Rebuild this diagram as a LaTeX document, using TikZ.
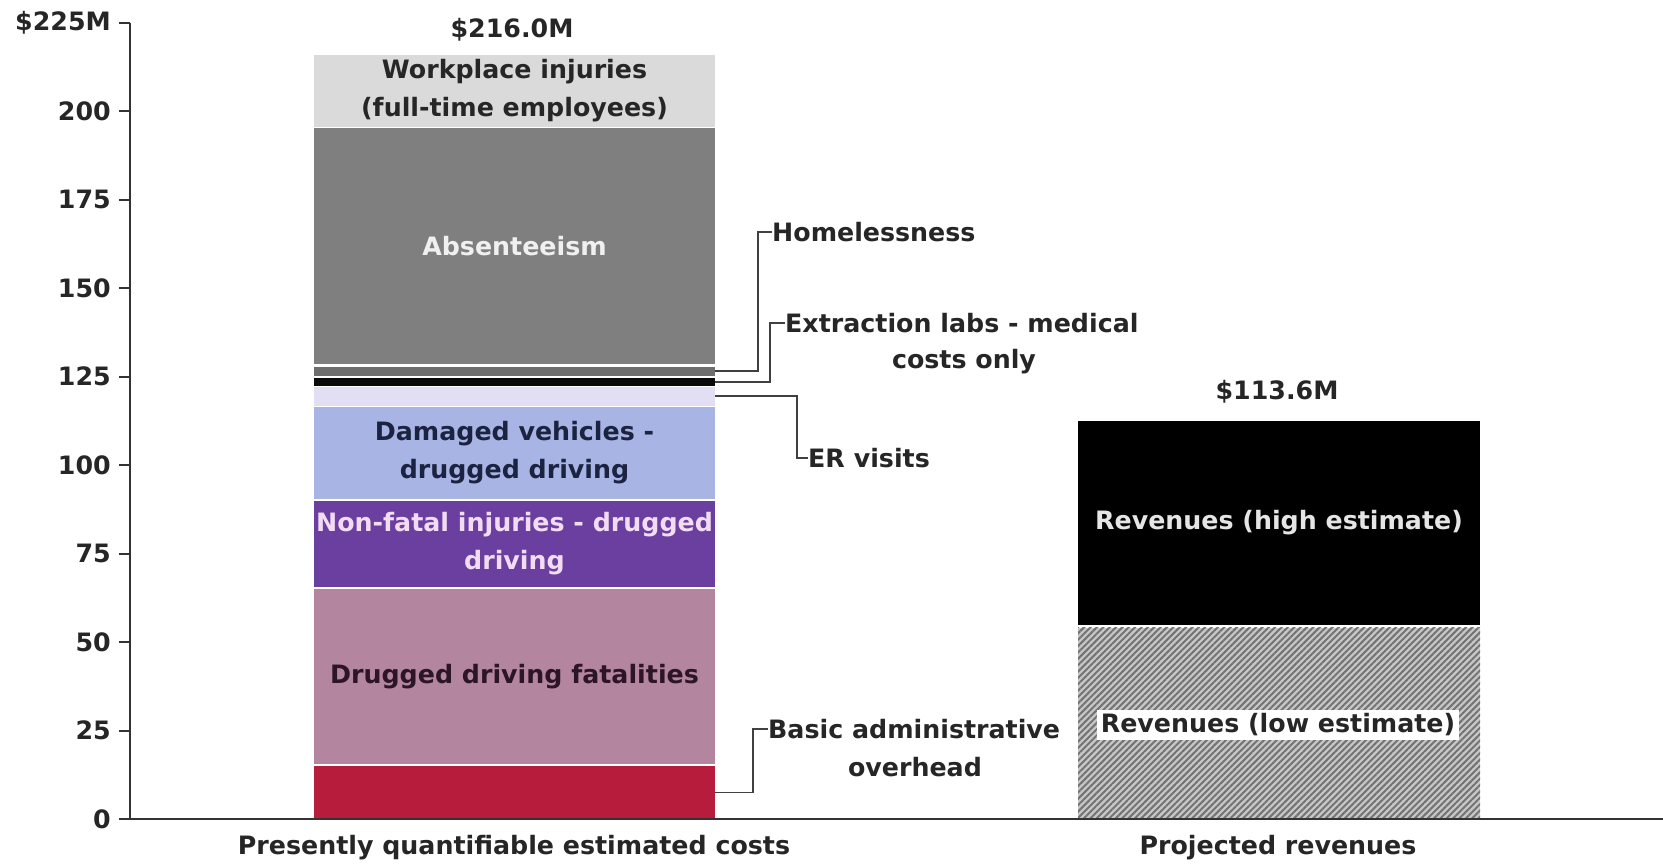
\documentclass[tikz,border=0pt]{standalone}
\usepackage{fontspec}
\setmainfont{DejaVu Sans}
\usetikzlibrary{patterns.meta}
\newcommand\mylbl{\fontsize{25.3}{38}\selectfont\bfseries}
\definecolor{cwork}{HTML}{DADADA}
\definecolor{cabs}{HTML}{7F7F7F}
\definecolor{chome}{HTML}{6E6E6E}
\definecolor{cext}{HTML}{0A0A0A}
\definecolor{cer}{HTML}{E2DFF5}
\definecolor{cdam}{HTML}{A8B4E4}
\definecolor{cnonf}{HTML}{6B3FA0}
\definecolor{cfat}{HTML}{B4859E}
\definecolor{cadm}{HTML}{B81C3C}
\definecolor{ctxt}{HTML}{262626}
\definecolor{tdam}{HTML}{1C2340}
\definecolor{tnonf}{HTML}{F2DCF2}
\definecolor{tfat}{HTML}{2B1526}
\begin{document}
\begin{tikzpicture}[x=1pt,y=-1pt,
  seg/.style={draw=none, inner sep=0pt, outer sep=0pt, anchor=north west, align=center, font=\mylbl},
  lead/.style={draw=black!75, line width=1.6pt},
  lab/.style={inner sep=0pt, font=\mylbl, text=ctxt, align=center},
  axisline/.style={draw=black!80, line width=2pt},
  ticklab/.style={inner sep=0pt, anchor=east, font=\mylbl, text=ctxt},
]
\useasboundingbox[fill=white] (0,0) rectangle (1663,865);
% left bar
\node[seg, fill=cwork, minimum width=401pt, minimum height=71.5pt, text=ctxt] (work) at (314,55) {Workplace injuries\\(full-time employees)};
\node[seg, fill=cabs, minimum width=401pt, minimum height=236pt, text=white!94!black] (abs) at (314,128) {Absenteeism};
\node[seg, fill=chome, minimum width=401pt, minimum height=9pt] (home) at (314,366.5) {};
\node[seg, fill=cext, minimum width=401pt, minimum height=8.5pt] (ext) at (314,377.5) {};
\node[seg, fill=cer, minimum width=401pt, minimum height=18.5pt] (er) at (314,387) {};
\node[seg, fill=cdam, minimum width=401pt, minimum height=92pt, text=tdam] (dam) at (314,407) {Damaged vehicles -\\drugged driving};
\node[seg, fill=cnonf, minimum width=401pt, minimum height=86pt, text=tnonf] (nonf) at (314,501) {Non-fatal injuries - drugged\\driving};
\node[seg, fill=cfat, minimum width=401pt, minimum height=175pt, text=tfat] (fat) at (314,589) {Drugged driving fatalities};
\node[seg, fill=cadm, minimum width=401pt, minimum height=53pt] (adm) at (314,766) {};
% right bar
\node[seg, fill=black, minimum width=402pt, minimum height=204pt, text=white!90!black] (high) at (1078,421) {Revenues (high estimate)};
\node[seg, preaction={fill=black!22}, pattern={Lines[angle=45,distance=4.5pt,line width=2pt]}, pattern color=black!55, minimum width=402pt, minimum height=191.5pt] (low) at (1078,627.5) {};
\node[lab, fill=white, inner sep=4pt] (lowl) at (1278,725) {Revenues (low estimate)};
% totals
\node[lab] (tot1) at (512,30) {\$216.0M};
\node[lab] (tot2) at (1277,392) {\$113.6M};
% axes
\draw[axisline] (130,22.7) -- (130,819);
\draw[axisline] (119,22.7) -- (130,22.7);
\node[ticklab] (t225) at (111,22.7) {\$225M};
\foreach \v in {0,25,...,200} {
  \draw[axisline] (119,{819-\v*3.539}) -- (130,{819-\v*3.539});
  \node[ticklab] (t\v) at (111,{819-\v*3.539}) {\v};
}
\draw[axisline] (130,819) -- (1663,819);
\node[lab] (cat1) at (514,848) {Presently quantifiable estimated costs};
\node[lab] (cat2) at (1278,848) {Projected revenues};
% callout labels
\node[lab, anchor=west] (homel) at (772,232) {Homelessness};
\node[lab, anchor=west] (extl) at (785,323) {Extraction labs - medical};
\node[lab] (extl2) at (964,361.5) {costs only};
\node[lab, anchor=west] (erl) at (808,458) {ER visits};
\node[lab, anchor=west] (adml) at (768,729) {Basic administrative};
\node[lab] (adml2) at (915,767) {overhead};
% leaders
\draw[lead] (home.east) -- ++(43,0) |- (homel.west);
\draw[lead] (ext.east) -- ++(55,0) |- (extl.west);
\draw[lead] (er.east) -- ++(82,0) |- (erl.west);
\draw[lead] (adm.east) -- ++(38,0) |- (adml.west);
\end{tikzpicture}
\end{document}
